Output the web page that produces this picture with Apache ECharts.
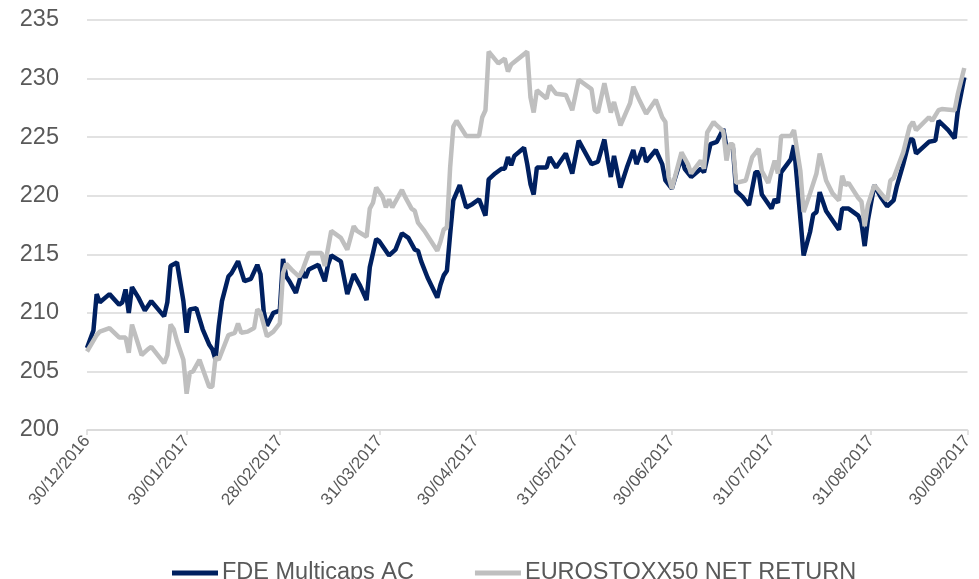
<!DOCTYPE html>
<html>
<head>
<meta charset="utf-8">
<script src="https://cdn.jsdelivr.net/npm/echarts@6/dist/echarts.min.js"></script>
<style>
html,body{margin:0;padding:0;background:#fff;}
#chart{width:979px;height:579px;}
</style>
</head>
<body>
<div id="chart"></div>
<script>
// ---- data ----
const startDate = '2016-12-30';
const endDate = '2017-09-30';
const tickLabels = ['30/12/2016','30/01/2017','28/02/2017','31/03/2017','30/04/2017','31/05/2017','30/06/2017','31/07/2017','31/08/2017','30/09/2017'];
const yTicks = [200, 205, 210, 215, 220, 225, 230, 235];
const seriesNames = ['FDE Multicaps AC', 'EUROSTOXX50 NET RETURN'];

const fdeDates = ['2016-12-30','2017-01-01','2017-01-02','2017-01-03','2017-01-06','2017-01-09','2017-01-10','2017-01-11','2017-01-12','2017-01-13','2017-01-15','2017-01-17','2017-01-18','2017-01-19','2017-01-23','2017-01-24','2017-01-25','2017-01-27','2017-01-29','2017-01-30','2017-01-31',
'2017-02-02','2017-02-04','2017-02-06','2017-02-07','2017-02-08','2017-02-09','2017-02-10','2017-02-12','2017-02-13','2017-02-15','2017-02-17','2017-02-19','2017-02-21','2017-02-22','2017-02-23','2017-02-24','2017-02-26','2017-02-28',
'2017-03-01','2017-03-02','2017-03-03','2017-03-05','2017-03-07','2017-03-08','2017-03-09','2017-03-12','2017-03-14','2017-03-15','2017-03-16','2017-03-19','2017-03-21','2017-03-23','2017-03-25','2017-03-27','2017-03-28','2017-03-30','2017-03-31',
'2017-04-03','2017-04-05','2017-04-07','2017-04-09','2017-04-11','2017-04-12','2017-04-13','2017-04-15','2017-04-18','2017-04-19','2017-04-20','2017-04-21','2017-04-22','2017-04-23','2017-04-25','2017-04-27','2017-04-29',
'2017-05-01','2017-05-03','2017-05-04','2017-05-06','2017-05-08','2017-05-09','2017-05-10','2017-05-11','2017-05-12','2017-05-15','2017-05-16','2017-05-17','2017-05-18','2017-05-19','2017-05-22','2017-05-23','2017-05-25','2017-05-28','2017-05-30',
'2017-06-01','2017-06-05','2017-06-07','2017-06-09','2017-06-10','2017-06-11','2017-06-12','2017-06-14','2017-06-16','2017-06-18','2017-06-19','2017-06-21','2017-06-22','2017-06-25','2017-06-27','2017-06-28','2017-06-30',
'2017-07-03','2017-07-04','2017-07-06','2017-07-09','2017-07-10','2017-07-12','2017-07-14','2017-07-16','2017-07-17','2017-07-19','2017-07-20','2017-07-22','2017-07-24','2017-07-26','2017-07-27','2017-07-28','2017-07-31',
'2017-08-01','2017-08-02','2017-08-03','2017-08-06','2017-08-07','2017-08-10','2017-08-12','2017-08-13','2017-08-14','2017-08-15','2017-08-17','2017-08-21','2017-08-22','2017-08-24','2017-08-27','2017-08-28','2017-08-29','2017-08-30',
'2017-09-01','2017-09-03','2017-09-05','2017-09-07','2017-09-08','2017-09-10','2017-09-12','2017-09-13','2017-09-14','2017-09-18','2017-09-20','2017-09-21','2017-09-24','2017-09-26','2017-09-27','2017-09-29'];
const fdeValues = [207.0,208.5,211.6,210.9,211.6,210.7,210.9,212.0,210.0,212.2,211.3,210.2,210.6,211.0,209.7,210.9,214.0,214.3,211.0,208.3,210.3,
210.4,208.6,207.3,206.9,206.0,208.9,211.0,213.1,213.4,214.4,212.7,212.9,214.1,213.3,210.1,208.9,210.0,210.2,
214.6,213.1,212.7,211.7,213.6,213.0,213.7,214.1,212.7,214.1,214.9,214.4,211.6,213.3,212.3,211.1,213.9,216.3,216.1,
214.9,215.4,216.8,216.4,215.4,215.3,214.4,213.0,211.3,212.4,213.2,213.6,216.7,219.6,220.9,219.0,219.3,
219.7,218.3,221.4,221.9,222.3,222.3,223.3,222.6,223.4,224.1,222.7,221.0,220.1,222.4,222.4,223.3,222.4,223.6,221.9,
224.7,222.7,222.9,224.8,223.1,221.6,223.4,220.7,222.4,223.9,222.7,224.1,222.9,223.9,222.7,221.3,220.6,
223.3,222.3,221.6,222.3,222.0,224.4,224.6,225.7,224.1,224.1,220.4,219.9,219.2,222.0,222.0,220.1,218.9,
219.7,219.4,222.0,223.1,224.3,214.9,216.9,218.4,218.6,220.3,218.7,217.1,218.9,218.9,218.3,217.7,215.7,217.9,
220.9,219.9,219.1,219.6,220.8,222.7,224.8,224.8,223.6,224.6,224.7,226.4,225.6,224.9,227.3,230.1];

const stoxxDates = ['2016-12-30','2017-01-02','2017-01-03','2017-01-06','2017-01-09','2017-01-11','2017-01-12','2017-01-13','2017-01-16','2017-01-18','2017-01-19','2017-01-23','2017-01-24','2017-01-25','2017-01-26','2017-01-27','2017-01-29','2017-01-30','2017-01-31',
'2017-02-01','2017-02-03','2017-02-06','2017-02-07','2017-02-08','2017-02-09','2017-02-12','2017-02-14','2017-02-15','2017-02-16','2017-02-18','2017-02-20','2017-02-21','2017-02-22','2017-02-24','2017-02-26','2017-02-28',
'2017-03-01','2017-03-02','2017-03-04','2017-03-06','2017-03-07','2017-03-09','2017-03-13','2017-03-14','2017-03-16','2017-03-19','2017-03-21','2017-03-23','2017-03-24','2017-03-27','2017-03-28','2017-03-29','2017-03-30',
'2017-04-01','2017-04-02','2017-04-03','2017-04-04','2017-04-07','2017-04-08','2017-04-10','2017-04-11','2017-04-12','2017-04-14','2017-04-18','2017-04-19','2017-04-20','2017-04-21','2017-04-22','2017-04-23','2017-04-24','2017-04-27',
'2017-05-01','2017-05-02','2017-05-03','2017-05-04','2017-05-07','2017-05-09','2017-05-10','2017-05-11','2017-05-16','2017-05-17','2017-05-18','2017-05-19','2017-05-22','2017-05-23','2017-05-25','2017-05-28','2017-05-30',
'2017-06-01','2017-06-05','2017-06-06','2017-06-07','2017-06-09','2017-06-11','2017-06-12','2017-06-14','2017-06-17','2017-06-18','2017-06-20','2017-06-22','2017-06-25','2017-06-27','2017-06-28','2017-06-29','2017-06-30',
'2017-07-03','2017-07-05','2017-07-06','2017-07-09','2017-07-10','2017-07-11','2017-07-13','2017-07-14','2017-07-16','2017-07-17','2017-07-18','2017-07-19','2017-07-20','2017-07-23','2017-07-25','2017-07-27','2017-07-28','2017-07-30',
'2017-08-01','2017-08-02','2017-08-03','2017-08-06','2017-08-07','2017-08-09','2017-08-10','2017-08-12','2017-08-14','2017-08-15','2017-08-17','2017-08-19','2017-08-21','2017-08-22','2017-08-23','2017-08-24','2017-08-27','2017-08-28','2017-08-29','2017-08-30',
'2017-09-01','2017-09-04','2017-09-05','2017-09-06','2017-09-07','2017-09-10','2017-09-12','2017-09-13','2017-09-14','2017-09-18','2017-09-19','2017-09-21','2017-09-22','2017-09-26','2017-09-27','2017-09-29'];
const stoxxValues = [206.7,208.1,208.4,208.7,207.9,207.9,206.6,209.0,206.4,206.9,207.1,205.7,206.4,209.0,208.6,207.6,206.0,203.1,204.9,
205.0,206.0,203.7,203.7,206.2,206.0,208.1,208.3,209.1,208.3,208.4,208.7,210.3,210.0,208.0,208.4,209.1,
213.4,214.2,213.6,213.1,213.6,215.1,215.1,214.0,217.0,216.4,215.4,217.4,217.0,216.5,218.9,219.4,220.7,
219.9,219.0,219.7,219.0,220.5,219.9,218.9,218.7,217.7,217.0,215.3,216.1,217.1,217.3,222.4,225.9,226.4,225.1,
225.1,226.7,227.3,232.3,231.3,231.7,230.6,231.2,232.3,228.4,227.1,229.0,228.3,229.4,228.7,228.6,227.3,
229.9,229.1,227.3,227.1,229.6,227.1,228.0,226.0,227.9,229.3,228.1,227.0,228.2,226.7,226.3,221.6,220.6,
223.7,222.7,221.9,223.0,222.3,225.4,226.3,226.0,225.5,223.0,224.4,224.4,221.1,221.3,223.3,224.0,222.1,221.1,
223.0,221.9,225.1,225.1,225.6,222.1,218.6,220.2,221.9,223.6,221.3,220.2,219.6,221.7,220.9,221.1,219.8,219.5,217.4,219.2,
220.9,219.9,219.6,221.3,221.5,223.7,225.9,226.3,225.6,226.7,226.4,227.3,227.4,227.3,228.7,230.9];

// ---- build categories (every calendar day) ----
function pad(n){return (n<10?'0':'')+n;}
function isoToLabel(iso){const p=iso.split('-');return p[2]+'/'+p[1]+'/'+p[0];}
const categories = [];
(function(){
  const s = new Date(startDate+'T00:00:00Z').getTime();
  const e = new Date(endDate+'T00:00:00Z').getTime();
  for (let t = s; t <= e; t += 86400000) {
    const d = new Date(t);
    categories.push(pad(d.getUTCDate())+'/'+pad(d.getUTCMonth()+1)+'/'+d.getUTCFullYear());
  }
})();
const tickSet = new Set(tickLabels);
function pairs(dates, vals){ return dates.map((d,i)=>[isoToLabel(d), vals[i]]); }

const FONT = '"Liberation Sans", Arial, sans-serif';
const chart = echarts.init(document.getElementById('chart'), null, {renderer:'canvas'});
chart.setOption({
  animation: false,
  backgroundColor: '#ffffff',
  grid: { left: 87, right: 11.5, top: 20, bottom: 149, containLabel: false },
  legend: {
    data: seriesNames,
    left: 167, top: 556,
    itemWidth: 46, itemHeight: 5, itemGap: 61,
    icon: 'rect',
    textStyle: { fontFamily: FONT, fontSize: 23.5, color: '#595959', padding: [0,0,0,-1] }
  },
  xAxis: {
    type: 'category',
    data: categories,
    boundaryGap: false,
    axisLine: { show: true, lineStyle: { color: '#d9d9d9', width: 1.5 } },
    axisTick: { show: true, length: 5, lineStyle: { color: '#d9d9d9', width: 1.5 },
      interval: (i, v) => tickSet.has(v) },
    axisLabel: { rotate: 50, margin: 8, fontFamily: FONT, fontSize: 17, color: '#595959',
      interval: (i, v) => tickSet.has(v) },
    splitLine: { show: false }
  },
  yAxis: {
    type: 'value',
    min: yTicks[0], max: yTicks[yTicks.length-1], interval: 5,
    axisLine: { show: false }, axisTick: { show: false },
    axisLabel: { margin: 28, fontFamily: FONT, fontSize: 23.5, color: '#595959' },
    splitLine: { show: true, lineStyle: { color: '#d9d9d9', width: 1.5 } }
  },
  series: [
    { name: seriesNames[0], type: 'line', data: pairs(fdeDates, fdeValues),
      showSymbol: false, symbol: 'none', lineStyle: { color: '#002060', width: 4.5 }, itemStyle: { color: '#002060' } },
    { name: seriesNames[1], type: 'line', data: pairs(stoxxDates, stoxxValues),
      showSymbol: false, symbol: 'none', lineStyle: { color: '#bfbfbf', width: 4.5 }, itemStyle: { color: '#bfbfbf' } }
  ]
});
</script>
</body>
</html>
